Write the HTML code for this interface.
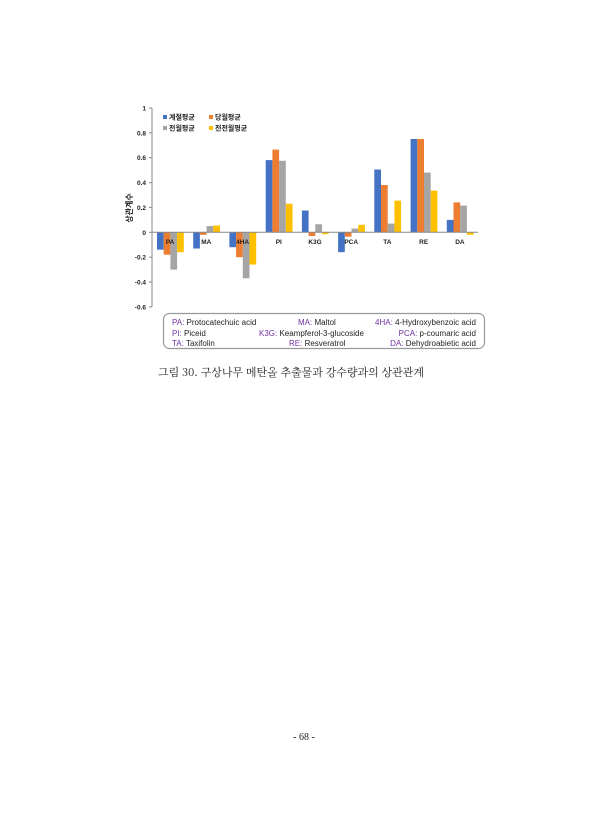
<!DOCTYPE html>
<html><head><meta charset="utf-8"><style>
html,body{margin:0;padding:0;background:#fff;}
svg{display:block;}
</style></head><body>
<svg width="609" height="840" xmlns="http://www.w3.org/2000/svg" font-family="Liberation Sans, Noto Sans CJK KR, sans-serif">
<rect width="609" height="840" fill="#fff"/>
<line x1="152" y1="108" x2="152" y2="307" stroke="#888" stroke-width="1"/>
<g stroke="#888" stroke-width="1">
<line x1="149" y1="108" x2="152" y2="108"/><line x1="149" y1="132.9" x2="152" y2="132.9"/>
<line x1="149" y1="157.7" x2="152" y2="157.7"/><line x1="149" y1="182.6" x2="152" y2="182.6"/>
<line x1="149" y1="207.4" x2="152" y2="207.4"/><line x1="149" y1="232.3" x2="152" y2="232.3"/>
<line x1="149" y1="257.2" x2="152" y2="257.2"/><line x1="149" y1="282" x2="152" y2="282"/>
<line x1="149" y1="306.9" x2="152" y2="306.9"/>
</g>
<g font-size="6.5" font-weight="bold" fill="#222" text-anchor="end">
<text x="146" y="110.5">1</text><text x="146" y="135.4">0.8</text><text x="146" y="160.2">0.6</text>
<text x="146" y="185.1">0.4</text><text x="146" y="209.9">0.2</text><text x="146" y="234.8">0</text>
<text x="146" y="259.7">-0.2</text><text x="146" y="284.5">-0.4</text><text x="146" y="309.4">-0.6</text>
</g>
<text transform="translate(132,208) rotate(-90)" font-size="8" font-weight="bold" fill="#222" text-anchor="middle">상관계수</text>
<g>
<!-- PA -->
<rect x="157" y="232.3" width="6.7" height="17.4" fill="#4472C4"/>
<rect x="163.7" y="232.3" width="6.7" height="22.4" fill="#ED7D31"/>
<rect x="170.4" y="232.3" width="6.7" height="37.3" fill="#A5A5A5"/>
<rect x="177.1" y="232.3" width="6.7" height="19.9" fill="#FFC000"/>
<!-- MA -->
<rect x="193.2" y="232.3" width="6.7" height="16.2" fill="#4472C4"/>
<rect x="199.9" y="232.3" width="6.7" height="2.5" fill="#ED7D31"/>
<rect x="206.6" y="226.1" width="6.7" height="6.2" fill="#A5A5A5"/>
<rect x="213.3" y="225.5" width="6.7" height="6.8" fill="#FFC000"/>
<!-- 4HA -->
<rect x="229.4" y="232.3" width="6.7" height="14.9" fill="#4472C4"/>
<rect x="236.1" y="232.3" width="6.7" height="24.9" fill="#ED7D31"/>
<rect x="242.8" y="232.3" width="6.7" height="46" fill="#A5A5A5"/>
<rect x="249.5" y="232.3" width="6.7" height="32.3" fill="#FFC000"/>
<!-- PI -->
<rect x="265.7" y="160.1" width="6.7" height="72.2" fill="#4472C4"/>
<rect x="272.4" y="149.6" width="6.7" height="82.7" fill="#ED7D31"/>
<rect x="279.1" y="160.8" width="6.7" height="71.5" fill="#A5A5A5"/>
<rect x="285.8" y="203.7" width="6.7" height="28.6" fill="#FFC000"/>
<!-- K3G -->
<rect x="301.9" y="210.5" width="6.7" height="21.8" fill="#4472C4"/>
<rect x="308.6" y="232.3" width="6.7" height="3.7" fill="#ED7D31"/>
<rect x="315.3" y="224.2" width="6.7" height="8.1" fill="#A5A5A5"/>
<rect x="322" y="232.3" width="6.7" height="1.9" fill="#FFC000"/>
<!-- PCA -->
<rect x="338.1" y="232.3" width="6.7" height="19.9" fill="#4472C4"/>
<rect x="344.8" y="232.3" width="6.7" height="4.4" fill="#ED7D31"/>
<rect x="351.5" y="228.6" width="6.7" height="3.7" fill="#A5A5A5"/>
<rect x="358.2" y="224.8" width="6.7" height="7.5" fill="#FFC000"/>
<!-- TA -->
<rect x="374.3" y="169.5" width="6.7" height="62.8" fill="#4472C4"/>
<rect x="381" y="185" width="6.7" height="47.3" fill="#ED7D31"/>
<rect x="387.7" y="223.6" width="6.7" height="8.7" fill="#A5A5A5"/>
<rect x="394.4" y="200.6" width="6.7" height="31.7" fill="#FFC000"/>
<!-- RE -->
<rect x="410.6" y="139" width="6.7" height="93.3" fill="#4472C4"/>
<rect x="417.3" y="139" width="6.7" height="93.3" fill="#ED7D31"/>
<rect x="424" y="172.6" width="6.7" height="59.7" fill="#A5A5A5"/>
<rect x="430.7" y="190.6" width="6.7" height="41.7" fill="#FFC000"/>
<!-- DA -->
<rect x="446.8" y="219.9" width="6.7" height="12.4" fill="#4472C4"/>
<rect x="453.5" y="202.4" width="6.7" height="29.9" fill="#ED7D31"/>
<rect x="460.2" y="205.6" width="6.7" height="26.7" fill="#A5A5A5"/>
<rect x="466.9" y="232.3" width="6.7" height="2.5" fill="#FFC000"/>
</g>
<line x1="152" y1="232.3" x2="478" y2="232.3" stroke="#888" stroke-width="1"/>
<g font-size="6.5" font-weight="bold" fill="#222" text-anchor="middle">
<text x="170.1" y="244">PA</text><text x="206.3" y="244">MA</text><text x="242.6" y="244">4HA</text>
<text x="278.8" y="244">PI</text><text x="315" y="244">K3G</text><text x="351.2" y="244">PCA</text>
<text x="387.4" y="244">TA</text><text x="423.7" y="244">RE</text><text x="459.9" y="244">DA</text>
</g>
<g font-size="7" font-weight="bold" fill="#222">
<rect x="163" y="115" width="4" height="4" fill="#4472C4"/><text x="169" y="119.5">계절평균</text>
<rect x="209" y="115" width="4" height="4" fill="#ED7D31"/><text x="215" y="119.5">당월평균</text>
<rect x="163" y="126" width="4" height="4" fill="#A5A5A5"/><text x="169" y="130.5">전월평균</text>
<rect x="209" y="126" width="4" height="4" fill="#FFC000"/><text x="215" y="130.5">전전월평균</text>
</g>
<rect x="163.5" y="313.5" width="321" height="35" rx="6" fill="#fff" stroke="#999" stroke-width="1.2"/>
<g font-size="8" fill="#222">
<text x="172" y="325"><tspan fill="#7030A0">PA:</tspan> Protocatechuic acid</text>
<text x="298" y="325"><tspan fill="#7030A0">MA:</tspan> Maltol</text>
<text x="476" y="325" text-anchor="end"><tspan fill="#7030A0">4HA:</tspan> 4-Hydroxybenzoic acid</text>
<text x="172" y="336"><tspan fill="#7030A0">PI:</tspan> Piceid</text>
<text x="259" y="336"><tspan fill="#7030A0">K3G:</tspan> Keampferol-3-glucoside</text>
<text x="476" y="336" text-anchor="end"><tspan fill="#7030A0">PCA:</tspan> p-coumaric acid</text>
<text x="172" y="346"><tspan fill="#7030A0">TA:</tspan> Taxifolin</text>
<text x="289" y="346"><tspan fill="#7030A0">RE:</tspan> Resveratrol</text>
<text x="476" y="346" text-anchor="end"><tspan fill="#7030A0">DA:</tspan> Dehydroabietic acid</text>
</g>
<text x="158" y="376" font-size="11" fill="#222" font-family="Noto Serif CJK SC, Liberation Serif, serif" textLength="266">그림 30. 구상나무 메탄올 추출물과 강수량과의 상관관계</text>
<text x="304" y="740" font-size="10" fill="#222" text-anchor="middle" font-family="Liberation Serif, serif">- 68 -</text>
</svg>
</body></html>
